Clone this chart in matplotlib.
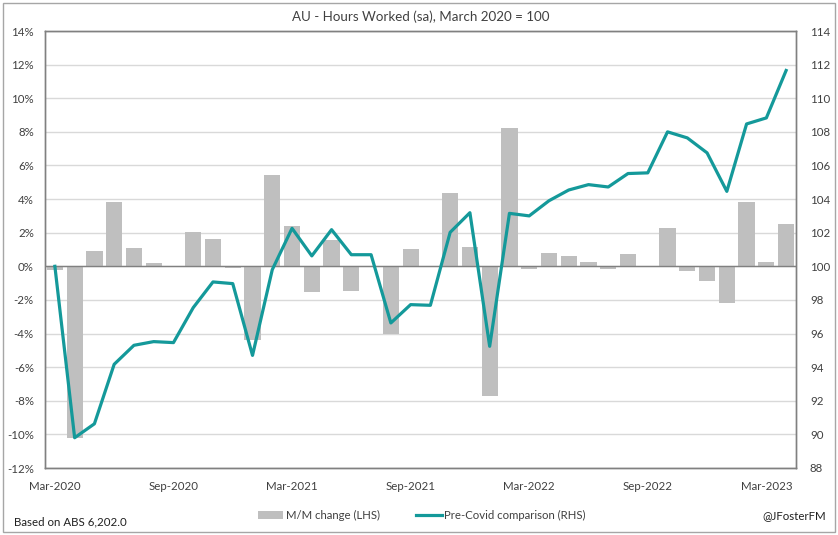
import numpy as np
import matplotlib.pyplot as plt
from matplotlib.patches import Patch, Rectangle
from matplotlib.lines import Line2D

plt.rcParams['font.family'] = ['Lato', 'DejaVu Sans']

# monthly categories Mar-2020 .. Apr-2023
months = ['Jan', 'Feb', 'Mar', 'Apr', 'May', 'Jun',
          'Jul', 'Aug', 'Sep', 'Oct', 'Nov', 'Dec']
periods = []
for k in range(38):
    m = (2 + k) % 12
    y = 2020 + (2 + k) // 12
    periods.append(f"{months[m]}-{y}")

# M/M change, % (LHS)
mm_change = [-0.2, -10.2, 0.9, 3.85, 1.1, 0.22, -0.06, 2.06, 1.6, -0.1,
             -4.4, 5.42, 2.42, -1.55, 1.55, -1.47, 0.0, -4.03, 1.05, -0.04,
             4.38, 1.17, -7.72, 8.25, -0.16, 0.81, 0.63, 0.28, -0.16, 0.73,
             0.04, 2.3, -0.28, -0.87, -2.18, 3.85, 0.28, 2.54]

# index, March 2020 = 100 (RHS)
pre_covid = [100.0, 89.8, 90.63, 94.17, 95.3, 95.52, 95.46, 97.54, 99.07, 98.97,
             94.7, 99.8, 102.26, 100.62, 102.18, 100.69, 100.69, 96.63, 97.72, 97.68,
             102.02, 103.19, 95.24, 103.15, 103.0, 103.9, 104.54, 104.86, 104.72, 105.52,
             105.56, 108.0, 107.64, 106.75, 104.46, 108.47, 108.83, 111.65]

bar_col = '#bfbfbf'
line_col = '#14999a'
txt_col = '#404040'

fig = plt.figure(figsize=(8.38, 5.35), dpi=100)
fig.patches.append(Rectangle((0.004, 0.005), 0.992, 0.989, transform=fig.transFigure,
                             fill=False, edgecolor='#a6a6a6', linewidth=1))
ax = fig.add_axes([45 / 838, 1 - 468 / 535, 751 / 838, 437 / 535])
ax2 = ax.twinx()

x = np.arange(len(periods))
ax.bar(x, mm_change, width=0.82, color=bar_col, zorder=2)
ax.axhline(0, color='#808080', linewidth=1, zorder=3)
ax2.plot(x, pre_covid, color=line_col, linewidth=2.3, zorder=4)

ax.set_xlim(-0.5, len(periods) - 0.5)
ax.set_ylim(-12, 14)
ax.set_yticks(range(-12, 15, 2))
ax.set_yticklabels([f"{v}%" for v in range(-12, 15, 2)])
ax2.set_ylim(88, 114)
ax2.set_yticks(range(88, 115, 2))

ax.set_xticks(x[::6])
ax.set_xticklabels(periods[::6])

ax.grid(axis='y', color='#d9d9d9', linewidth=1, zorder=0)
ax.set_axisbelow(True)
for a in (ax, ax2):
    a.tick_params(length=0, labelsize=8.3, labelcolor=txt_col)
    for s in a.spines.values():
        s.set_color('#808080')
        s.set_linewidth(1)
ax.tick_params(axis='x', pad=9)
ax.tick_params(axis='y', pad=8)
ax2.tick_params(axis='y', pad=10)

fig.text(0.502, 1 - 17 / 535, 'AU - Hours Worked (sa), March 2020 = 100',
         ha='center', va='center', fontsize=9.6, color=txt_col)

handles = [Patch(facecolor=bar_col, edgecolor='none', label='M/M change (LHS)'),
           Line2D([0], [0], color=line_col, linewidth=2.3, label='Pre-Covid comparison (RHS)')]
fig.legend(handles=handles, loc='center', bbox_to_anchor=(0.5036, 1 - 515 / 535), ncol=2,
           frameon=False, fontsize=8.2, handlelength=2.2, handletextpad=0.25,
           columnspacing=3.2, labelcolor=txt_col)

fig.text(14 / 838, 1 - 522 / 535, 'Based on ABS 6,202.0', ha='left', va='center',
         fontsize=8.3, color='#202020')
fig.text(826 / 838, 1 - 516 / 535, '@JFosterFM', ha='right', va='center',
         fontsize=8.3, color='#202020')

fig.savefig('out.png', dpi=100)
